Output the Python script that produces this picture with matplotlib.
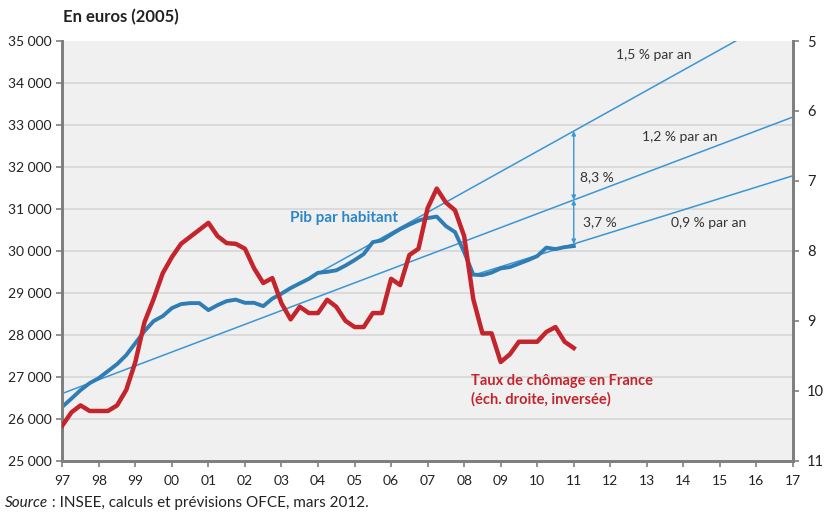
import matplotlib
matplotlib.use("Agg")
import matplotlib.pyplot as plt
import numpy as np

plt.rcParams['font.family'] = ['Lato', 'DejaVu Sans']

# quarterly data, 1997Q1 .. 2011Q1
start_year = 1997
pib = [26282, 26477, 26680, 26847, 26966, 27133, 27300, 27514,
       27800, 28086, 28325, 28444, 28635, 28730, 28754, 28754,
       28587, 28706, 28802, 28837, 28761, 28761, 28682, 28861,
       28980, 29112, 29224, 29333, 29476, 29500, 29536, 29648,
       29779, 29922, 30208, 30249, 30387, 30518, 30625, 30721,
       30780, 30816, 30590, 30447, 29970, 29433, 29421, 29481,
       29581, 29612, 29696, 29779, 29874, 30077, 30041, 30089,
       30113]
chomage = [10.50, 10.31, 10.21, 10.29, 10.29, 10.29, 10.21, 9.99,
           9.59, 9.02, 8.69, 8.32, 8.09, 7.90, 7.80, 7.70,
           7.60, 7.79, 7.89, 7.90, 7.97, 8.25, 8.46, 8.39,
           8.75, 8.98, 8.80, 8.89, 8.89, 8.70, 8.80, 9.00,
           9.09, 9.09, 8.89, 8.89, 8.40, 8.49, 8.06, 7.97,
           7.39, 7.11, 7.31, 7.42, 7.79, 8.69, 9.18, 9.18,
           9.59, 9.48, 9.30, 9.30, 9.30, 9.16, 9.09, 9.30,
           9.39]

# trend lines (year, value) end points
trend_12_years = [1997, 2017]
trend_12_values = [26600, 33190]
trend_15_years = [2002.75, 2017]
trend_15_values = [28860, 35760]
trend_09_years = [2008.2, 2017]
trend_09_values = [29405, 31790]
arrow_year = 2011

year_ticks = list(range(1997, 2018))
year_labels = [f"{y % 100:02d}" for y in year_ticks]
left_ticks = list(range(25000, 35001, 1000))
left_labels = [f"{v // 1000} 000" for v in left_ticks]
right_ticks = list(range(5, 12))

blue = '#2f7db3'
thin_blue = '#3a96d4'
red = '#c4242b'
axis_grey = '#7f7f7f'

years = start_year + np.arange(len(pib)) / 4

fig = plt.figure(figsize=(8.26, 5.13), dpi=100)
ax = fig.add_axes([0.0754, 0.1021, 0.8846, 0.8179])
ax.set_facecolor('#f0f0f0')
ax2 = ax.twinx()

ax.set_xlim(1997, 2017)
ax.set_ylim(25000, 35000)
ax2.set_ylim(11, 5)

for v in left_ticks[1:-1]:
    ax.axhline(v, color='#d8d8d8', lw=1.3, zorder=0)

ax.plot(trend_12_years, trend_12_values, color=thin_blue, lw=1.1, zorder=2)
ax.plot(trend_15_years, trend_15_values, color=thin_blue, lw=1.1, zorder=2)
ax.plot(trend_09_years, trend_09_values, color=thin_blue, lw=1.1, zorder=2)

ax.plot(years, pib, color=blue, lw=2.8, zorder=3, solid_joinstyle='round')
ax2.plot(years, chomage, color=red, lw=3.2, zorder=3, solid_joinstyle='round')

# double arrows between trend lines
top = np.interp(arrow_year, trend_15_years, trend_15_values)
mid = np.interp(arrow_year, trend_12_years, trend_12_values)
bot = np.interp(arrow_year, trend_09_years, trend_09_values)
for a, b in [(top, mid), (mid, bot)]:
    ax.annotate('', xy=(arrow_year, a), xytext=(arrow_year, b),
                arrowprops=dict(arrowstyle='<|-|>', color=thin_blue, lw=1.0,
                                mutation_scale=6, shrinkA=0, shrinkB=0))

txt = '#333333'
ax.text(2013.2, 34666, '1,5 % par an', ha='center', va='center', fontsize=10, color=txt)
ax.text(2013.9, 32711, '1,2 % par an', ha='center', va='center', fontsize=10, color=txt)
ax.text(2014.7, 30661, '0,9 % par an', ha='center', va='center', fontsize=10, color=txt)
ax.text(2011.16, 31758, '8,3 %', ha='left', va='center', fontsize=10, color=txt)
ax.text(2011.24, 30685, '3,7 %', ha='left', va='center', fontsize=10, color=txt)
ax.text(2004.7, 30780, 'Pib par habitant', ha='center', va='center',
        fontsize=11, fontweight='bold', color='#2a86c8')
ax.text(2008.18, 26680, 'Taux de chômage en France\n(éch. droite, inversée)',
        ha='left', va='center', fontsize=10.5, fontweight='bold', color=red,
        linespacing=1.3)

ax.set_xticks(year_ticks)
ax.set_xticklabels(year_labels)
ax.set_yticks(left_ticks)
ax.set_yticklabels(left_labels)
ax2.set_yticks(right_ticks)

for a in (ax, ax2):
    a.spines['top'].set_visible(False)
    for s in ('left', 'right', 'bottom'):
        a.spines[s].set_color(axis_grey)
        a.spines[s].set_linewidth(2)
    a.tick_params(colors=axis_grey, labelcolor='#222222', labelsize=10,
                  length=4, width=1.2)
ax.tick_params(axis='x', pad=6)
ax2.tick_params(axis='y', pad=6, labelsize=10.5)

fig.text(63 / 826, 1 - 17 / 513, 'En euros (2005)', ha='left', va='center',
         fontsize=12, fontweight='bold', color='#222222')
src = fig.text(5 / 826, 1 - 503 / 513, 'Source', ha='left', va='center',
               fontsize=11, style='italic', color='#222222')
ax.annotate(' : INSEE, calculs et prévisions OFCE, mars 2012.', xy=(1, 0.5),
            xycoords=src, ha='left', va='center', fontsize=11,
            color='#222222', annotation_clip=False)

fig.savefig('out.png', dpi=100)
